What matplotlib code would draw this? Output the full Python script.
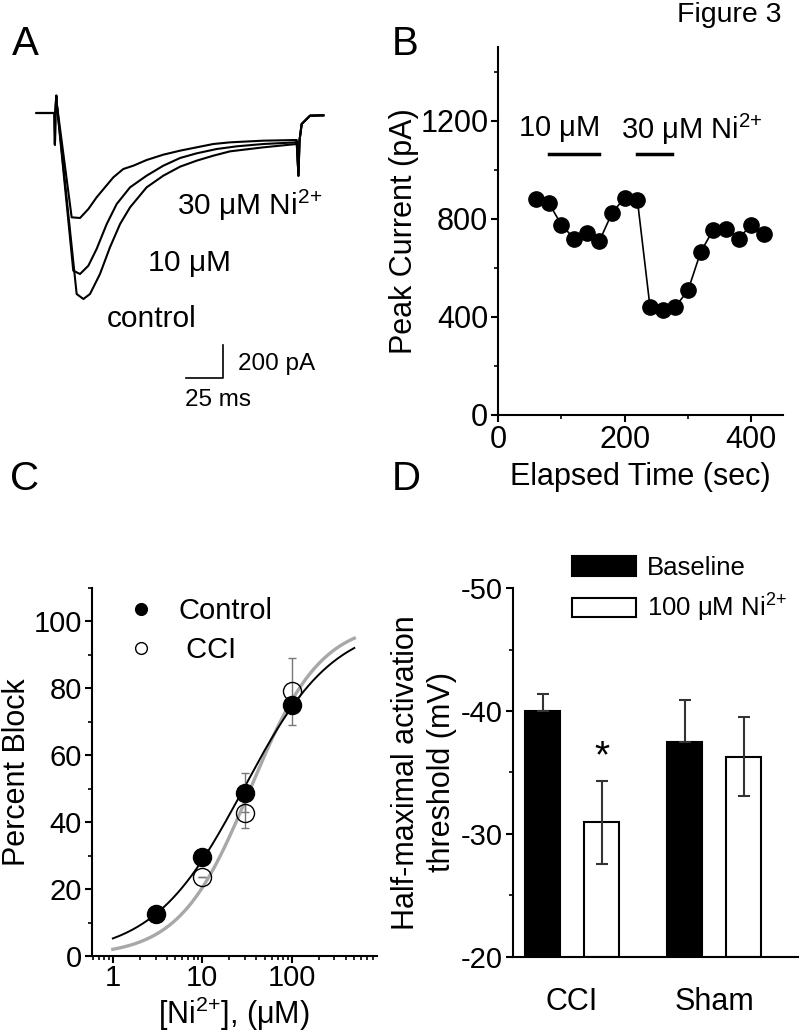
import numpy as np
import matplotlib.pyplot as plt
from matplotlib.ticker import MultipleLocator, LogLocator, NullFormatter

plt.rcParams['font.family'] = ['Liberation Sans', 'DejaVu Sans']
plt.rcParams['mathtext.default'] = 'regular'
plt.rcParams['axes.linewidth'] = 1.5
plt.rcParams['axes.unicode_minus'] = False

# ---- panel A: current traces (ms, pA) ----
pre_t = [-13.7, -1.5, -1.2, -0.9, -0.3, 0.0]
pre_i = [0, 0, -190, 0, 104, 60]
t_30 = [10.2, 15.9, 21.6, 27.2, 32.9, 38.6, 45.4, 52.3, 61.3, 72.7, 84.1, 95.4, 106.8, 118.2, 140.9, 163.6]
i_30 = [-626, -630, -576, -506, -446, -386, -336, -316, -282, -250, -226, -206, -186, -176, -166, -162]
t_10 = [11.3, 15.9, 21.6, 27.2, 34.1, 40.9, 50.0, 61.3, 72.7, 84.1, 95.4, 109.1, 122.7, 140.9, 163.6]
i_10 = [-946, -966, -916, -816, -666, -546, -446, -376, -316, -270, -242, -216, -200, -186, -176]
t_ctl = [13.6, 18.2, 22.7, 29.5, 36.3, 43.2, 50.0, 61.3, 72.7, 84.1, 95.4, 106.8, 118.2, 140.9, 163.6]
i_ctl = [-1086, -1116, -1086, -966, -806, -666, -566, -446, -376, -322, -286, -256, -230, -206, -186]
post_t = [163.6, 164.8, 165.5, 167.0, 172.7, 181.8]
post_i = [-170, -376, -166, -66, -16, -14]

# ---- panel B: peak current time course ----
time_s = [60, 80, 100, 120, 140, 160, 180, 200, 220, 240, 260, 280, 300, 320, 340, 360, 380, 400, 420]
peak_pa = [882, 865, 776, 719, 742, 709, 823, 886, 878, 441, 430, 441, 508, 664, 756, 760, 719, 776, 739]
drug_bars = [(80, 160), (220, 275)]

# ---- panel C: dose response ----
conc = [3, 10, 30, 100]
block_ctl = [12.7, 29.7, 48.8, 75.1]
err_ctl = [0, 0, 5.9, 0]
conc_cci = [10, 30, 100]
block_cci = [23.7, 42.7, 79.1]
err_cci = [0, 4.5, 10.0]
hill_ctl = (28.9, 0.86)   # IC50 (uM), Hill slope
hill_cci = (34.4, 1.10)

# ---- panel D: activation threshold ----
groups = ['CCI', 'Sham']
v_base = [-40.0, -37.5]
e_base = [1.4, 3.4]
v_ni = [-30.95, -36.27]
e_ni = [3.37, 3.22]

NI = r'Ni$^{2{+}}$'
MU = r'$\mu$M'

fig = plt.figure(figsize=(8, 10.32), dpi=100)
W, H = 800, 1032


def rect(x0, y0, x1, y1):
    return [x0 / W, 1 - y1 / H, (x1 - x0) / W, (y1 - y0) / H]


def style(ax):
    ax.spines['top'].set_visible(False)
    ax.spines['right'].set_visible(False)
    ax.tick_params(which='major', direction='out', length=5, width=1.5, pad=2)
    ax.tick_params(which='minor', direction='out', length=3, width=1.2)


# A
axA = fig.add_axes(rect(30, 90, 330, 420))
for tt, ii in [(t_30, i_30), (t_10, i_10), (t_ctl, i_ctl)]:
    axA.plot(pre_t + tt + post_t, pre_i + ii + post_i, color='black', lw=1.5)
axA.set_xlim(-18.2, 186.3)
axA.set_ylim(-1842, 138)
axA.axis('off')
axA.text(82, -552, '30 ' + MU + ' ' + NI, fontsize=21.5, va='center')
axA.text(61.6, -906, '10 ' + MU, fontsize=21.5, va='center')
axA.text(34.3, -1236, 'control', fontsize=21.5, va='center')
axA.plot([88.1, 113.1, 113.1], [-1590, -1590, -1390], color='black', lw=1.2)
axA.text(123.6, -1505, '200 pA', fontsize=17.5, va='center')
axA.text(87.5, -1720, '25 ms', fontsize=17.5, va='center')

# B
axB = fig.add_axes(rect(498, 47, 783, 415))
style(axB)
axB.plot(time_s, peak_pa, color='black', lw=1.2, marker='o', ms=11)
for x0, x1 in drug_bars:
    axB.plot([x0, x1], [1062, 1062], color='black', lw=2.5)
axB.text(31.5, 1166, '10 ' + MU, fontsize=21, va='center')
axB.text(194, 1166, '30 ' + MU + ' ' + NI, fontsize=21, va='center')
axB.set_xlim(0, 450)
axB.set_ylim(0, 1500)
axB.set_xticks([0, 200, 400])
axB.set_yticks([0, 400, 800, 1200])
axB.xaxis.set_minor_locator(MultipleLocator(100))
axB.yaxis.set_minor_locator(MultipleLocator(200))
axB.tick_params(labelsize=22)
axB.set_xlabel('Elapsed Time (sec)', fontsize=22, labelpad=5)
axB.set_ylabel('Peak Current (pA)', fontsize=22, labelpad=1)

# C
axC = fig.add_axes(rect(91.7, 588, 376.7, 956))
style(axC)
xs = np.logspace(0, np.log10(500), 200)
axC.plot(xs, 100 / (1 + (hill_cci[0] / xs) ** hill_cci[1]), color='#a8a8a8', lw=2.4)
axC.plot(xs, 100 / (1 + (hill_ctl[0] / xs) ** hill_ctl[1]), color='black', lw=1.4)
axC.errorbar(conc, block_ctl, yerr=err_ctl, fmt='none', ecolor='#777777', elinewidth=1, capsize=3)
axC.errorbar(conc_cci, block_cci, yerr=err_cci, fmt='none', ecolor='#777777', elinewidth=1, capsize=3)
axC.plot(conc, block_ctl, 'o', color='black', ms=13, label='Control')
axC.plot(conc_cci, block_cci, 'o', mfc='none', mec='black', mew=1, ms=13, label=' CCI')
axC.set_xscale('log')
axC.set_xlim(0.58, 890)
axC.set_ylim(0, 110)
axC.set_xticks([1, 10, 100])
axC.set_xticklabels(['1', '10', '100'])
axC.xaxis.set_minor_locator(LogLocator(base=10, subs=np.arange(2, 10)))
axC.xaxis.set_minor_formatter(NullFormatter())
axC.set_yticks([0, 20, 40, 60, 80, 100])
axC.yaxis.set_minor_locator(MultipleLocator(10))
axC.tick_params(labelsize=21)
axC.tick_params(axis='x', pad=1)
axC.set_xlabel('[' + NI + '], (' + MU + ')', fontsize=22, labelpad=2)
axC.set_ylabel('Percent Block', fontsize=22, labelpad=1)
axC.legend(loc='upper left', bbox_to_anchor=(126 / W, 1 - 597 / H), bbox_transform=fig.transFigure,
           frameon=False, fontsize=21, markerscale=0.65, handlelength=1.0, handletextpad=0.8,
           borderpad=0, borderaxespad=0, labelspacing=0.37)

# D
axD = fig.add_axes(rect(512.7, 588.3, 798, 956.7))
style(axD)
pos = np.arange(len(groups))
off, bw = 0.208, 0.246
axD.bar(pos - off, [v - (-20) for v in v_base], bottom=-20, width=bw, color='black', edgecolor='black',
        lw=1.5, label='Baseline')
axD.bar(pos + off, [v - (-20) for v in v_ni], bottom=-20, width=bw, color='white', edgecolor='black',
        lw=1.5, label='100 ' + MU + ' ' + NI)
axD.errorbar(pos - off, v_base, yerr=[e_base, [0, 0]], fmt='none', ecolor='#333333', elinewidth=1.5,
             capsize=4, capthick=1.5)
axD.errorbar(pos + off, v_ni, yerr=e_ni, fmt='none', ecolor='#333333', elinewidth=1.5,
             capsize=4, capthick=1.5)
axD.text(pos[0] + off, v_ni[0] - e_ni[0] - 1.9, '*', fontsize=28, ha='center', va='center')
axD.set_ylim(-20, -50)
axD.set_xlim(-0.418, 1.59)
axD.set_yticks([-20, -30, -40, -50])
axD.yaxis.set_minor_locator(MultipleLocator(5))
axD.set_xticks(pos)
axD.set_xticklabels(groups)
axD.tick_params(axis='x', length=0, pad=22, labelsize=22)
axD.tick_params(axis='y', labelsize=21)
axD.set_ylabel('Half-maximal activation\nthreshold (mV)', fontsize=22, labelpad=3, linespacing=1.25)
axD.legend(loc='upper left', bbox_to_anchor=(572 / W, 1 - 556 / H), bbox_transform=fig.transFigure,
           frameon=False, fontsize=18.5, handlelength=2.5, handleheight=0.8, handletextpad=0.4,
           borderpad=0, borderaxespad=0, labelspacing=0.45)

# letters
fig.text(12 / W, 1 - 55 / H, 'A', fontsize=29, va='baseline')
fig.text(392 / W, 1 - 55 / H, 'B', fontsize=29, va='baseline')
fig.text(10 / W, 1 - 490 / H, 'C', fontsize=29, va='baseline')
fig.text(392 / W, 1 - 490 / H, 'D', fontsize=29, va='baseline')
fig.text(677 / W, 1 - 22 / H, 'Figure 3', fontsize=20.5, va='baseline')

fig.savefig('out.png', dpi=100)
